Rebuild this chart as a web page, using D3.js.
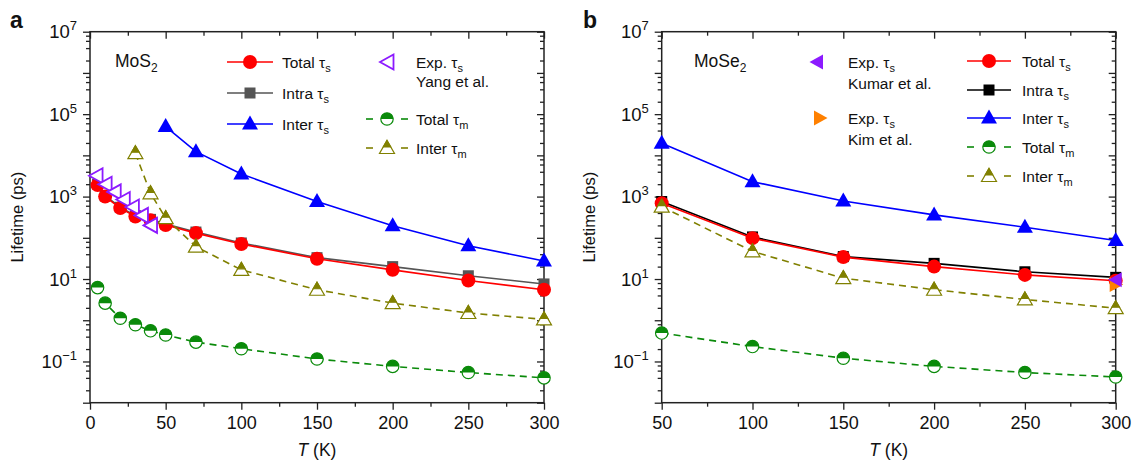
<!DOCTYPE html>
<html><head><meta charset="utf-8">
<script src="https://cdn.jsdelivr.net/npm/d3@7"></script>
<style>
html,body{margin:0;padding:0;background:#fff;}
svg text{font-family:"Liberation Sans",Arial,Helvetica,sans-serif;fill:#111;}
</style></head>
<body><svg id="c" width="1132" height="462"></svg>
<script>
// ---------- DATA ----------
// Panel a: MoS2
const tA = [5,10,20,30,40,50,70,100,150,200,250,300];
const totalTauS_A = [1900,1000,525,330,265,205,130,71,31,16.7,9.2,5.5];
const intraTauS_A = [2000,1050,550,345,280,215,138,75,33,20,12,7.6];
const tInterS_A = [50,70,100,150,200,250,300];
const interTauS_A = [50000,12300,3550,760,195,64,27.5];
const tInterM_A = [30,40,50,70,100,150,200,250,300];
const interTauM_A = [11300,1200,300,61,16.7,5.5,2.6,1.5,1.05];
const totalTauM_A = [6.2,2.6,1.12,0.78,0.555,0.44,0.295,0.204,0.115,0.076,0.054,0.04];
const tExpYang = [4,10,16,22,28,34,40];
const expYang = [3200,2000,1300,850,560,350,200];
// Panel b: MoSe2
const tB = [50,100,150,200,250,300];
const totalTauS_B = [690,98,34,20,12.6,9.1];
const intraTauS_B = [760,105,35,24,15,11];
const interTauS_B = [19700,2300,785,360,181,86];
const interTauM_B = [570,47,10.5,5.5,3.2,1.96];
const totalTauM_B = [0.49,0.23,0.12,0.076,0.054,0.042];
const tExpKumar = [300], expKumar = [9.6];
const tExpKim = [300], expKim = [7.4];
// Ticks
const xTicksA = [0,50,100,150,200,250,300];
const xMinorA = [25,75,125,175,225,275];
const xTicksB = [50,100,150,200,250,300];
const xMinorB = [75,125,175,225,275];
const yLabelExp = [-1,1,3,5,7];
const yMajorExp = [-2,-1,0,1,2,3,4,5,6,7];
const yMinorMult = [2,4,6,8];

// ---------- COLORS ----------
const C = {red:"#ff0000", gray:"#555555", black:"#000000", blue:"#0000ff",
  green:"#0a8a0a", olive:"#808000", purple:"#8c1aff", orange:"#ff8000"};

const svg = d3.select("#c");
const yDomain = [1e-2, 1e7];
const yRange = [402.7, 31.7];

function drawMarker(g, type, color, cx, cy){
  const m = g.append("g").attr("transform",`translate(${cx},${cy})`);
  if(type==="circle"){
    m.append("circle").attr("r",7).attr("fill",color);
  } else if(type==="square"){
    m.append("rect").attr("x",-5.5).attr("y",-5.5).attr("width",11).attr("height",11).attr("fill",color);
  } else if(type==="triUp"){
    m.append("path").attr("d","M0,-8.5 L8,5.5 L-8,5.5 Z").attr("fill",color);
  } else if(type==="halfCircle"){
    m.append("circle").attr("r",6.2).attr("fill","#fff").attr("stroke",color).attr("stroke-width",1.2);
    m.append("path").attr("d","M-6.2,0 A6.2,6.2 0 0 1 6.2,0 Z").attr("fill",color);
  } else if(type==="halfTri"){
    m.append("path").attr("d","M0,-7.5 L7.5,5.5 L-7.5,5.5 Z").attr("fill","#fff").attr("stroke",color).attr("stroke-width",1.2);
    m.append("path").attr("d","M0,-7.5 L3.75,-1 L-3.75,-1 Z").attr("fill",color).attr("stroke",color).attr("stroke-width",1.2);
  } else if(type==="triLeftOpen"){
    m.append("path").attr("d","M-7,0 L6.5,-7.5 L6.5,7.5 Z").attr("fill","#fff").attr("stroke",color).attr("stroke-width",1.8);
  } else if(type==="triLeft"){
    m.append("path").attr("d","M-7.5,0 L6,-7.5 L6,7.5 Z").attr("fill",color);
  } else if(type==="triRight"){
    m.append("path").attr("d","M7.5,0 L-6,-7.5 L-6,7.5 Z").attr("fill",color);
  }
}

function series(g, x, y, xs, ys, color, dash, marker, lineWidth){
  const pts = xs.map((t,i)=>[x(t), y(ys[i])]);
  if(dash!==null){
    g.append("path").attr("d", d3.line()(pts)).attr("fill","none").attr("stroke",color)
      .attr("stroke-width",lineWidth||1.6).attr("stroke-dasharray",dash||null);
  }
  pts.forEach(p=>drawMarker(g, marker, color, p[0], p[1]));
}

function addSub(textSel, main, sub, subSize, dy){
  textSel.append("tspan").text(main);
  textSel.append("tspan").attr("font-size",subSize).attr("dy",dy).text(sub);
}

function panel(opts){
  const {x, xTicks, xMinor, label, labelX, axX0, axX1} = opts;
  const y = d3.scaleLog().domain(yDomain).range(yRange);
  const g = svg.append("g");
  const clipId = "clip"+label;
  svg.append("clipPath").attr("id",clipId).append("rect")
    .attr("x",axX0-12).attr("y",yRange[1]).attr("width",axX1-axX0+24).attr("height",yRange[0]-yRange[1]);

  g.append("rect").attr("x",axX0).attr("y",yRange[1]).attr("width",axX1-axX0).attr("height",yRange[0]-yRange[1])
    .attr("fill","none").attr("stroke","#222").attr("stroke-width",1.5);

  const tickStyle = sel => { sel.select(".domain").remove(); sel.selectAll("line").attr("stroke","#222").attr("stroke-width",1.3); };
  g.append("g").attr("transform",`translate(0,${yRange[0]})`)
    .call(d3.axisBottom(x).tickValues(xTicks).tickSize(7).tickPadding(7).tickFormat(d3.format("d")))
    .call(tickStyle)
    .call(s=>s.selectAll("text").attr("font-size",18).attr("fill","#111"));
  g.append("g").attr("transform",`translate(0,${yRange[0]})`)
    .call(d3.axisBottom(x).tickValues(xMinor).tickSize(4).tickFormat(""))
    .call(tickStyle);
  g.append("g").attr("transform",`translate(0,${yRange[1]})`)
    .call(d3.axisTop(x).tickValues(xTicks).tickSize(-7).tickFormat(""))
    .call(tickStyle);
  g.append("g").attr("transform",`translate(0,${yRange[1]})`)
    .call(d3.axisTop(x).tickValues(xMinor).tickSize(-4).tickFormat(""))
    .call(tickStyle);

  const yMajor = yMajorExp.map(e=>Math.pow(10,e));
  const yMinor = [];
  for(let e=-2;e<7;e++) yMinorMult.forEach(m=>yMinor.push(m*Math.pow(10,e)));
  const yLab = yLabelExp.map(e=>Math.pow(10,e));
  g.append("g").attr("transform",`translate(${axX0},0)`)
    .call(d3.axisLeft(y).tickValues(yMajor).tickSize(7).tickFormat(""))
    .call(tickStyle);
  g.append("g").attr("transform",`translate(${axX0},0)`)
    .call(d3.axisLeft(y).tickValues(yMinor).tickSize(4).tickFormat(""))
    .call(tickStyle);
  g.append("g").attr("transform",`translate(${axX1},0)`)
    .call(d3.axisRight(y).tickValues(yMajor).tickSize(-7).tickFormat(""))
    .call(tickStyle);
  g.append("g").attr("transform",`translate(${axX1},0)`)
    .call(d3.axisRight(y).tickValues(yMinor).tickSize(-4).tickFormat(""))
    .call(tickStyle);
  yLab.forEach((v,i)=>{
    const e = yLabelExp[i];
    const t = g.append("text").attr("x",axX0-13).attr("y",y(v)+6.5).attr("text-anchor","end").attr("font-size",18.5);
    t.append("tspan").text("10");
    t.append("tspan").attr("font-size",13).attr("dy",-8).text(e<0?"\u2212"+(-e):String(e));
  });

  g.append("text").attr("transform",`translate(${axX0-67},${(yRange[0]+yRange[1])/2}) rotate(-90)`)
    .attr("text-anchor","middle").attr("font-size",16.5).text("Lifetime (ps)");
  const xt = g.append("text").attr("x",(axX0+axX1)/2).attr("y",456).attr("text-anchor","middle").attr("font-size",17.5);
  xt.append("tspan").attr("font-style","italic").text("T");
  xt.append("tspan").text(" (K)");

  svg.append("text").attr("x",labelX).attr("y",28).attr("font-size",23).attr("font-weight","bold").text(label);

  const plot = g.append("g").attr("clip-path",`url(#${clipId})`);
  return {g, plot, y};
}

// ---------- Panel a ----------
const xA = d3.scaleLinear().domain([0,300]).range([90,544]);
const pA = panel({x:xA, xTicks:xTicksA, xMinor:xMinorA, label:"a", labelX:10, axX0:90, axX1:544});
series(pA.plot, xA, pA.y, tA, intraTauS_A, C.gray, "", "square");
series(pA.plot, xA, pA.y, tA, totalTauS_A, C.red, "", "circle");
series(pA.plot, xA, pA.y, tInterS_A, interTauS_A, C.blue, "", "triUp");
series(pA.plot, xA, pA.y, tA, totalTauM_A, C.green, "7,5", "halfCircle");
series(pA.plot, xA, pA.y, tInterM_A, interTauM_A, C.olive, "7,5", "halfTri");
series(pA.plot, xA, pA.y, tExpYang, expYang, C.purple, null, "triLeftOpen");

// legend a
{
  const g = pA.g;
  const t0 = g.append("text").attr("x",115).attr("y",67).attr("font-size",17.5);
  addSub(t0,"MoS","2",12,5);
  const rows = [
    {y:62, c:C.red, m:"circle", main:"Total \u03c4", sub:"s"},
    {y:93, c:C.gray, m:"square", main:"Intra \u03c4", sub:"s"},
    {y:124, c:C.blue, m:"triUp", main:"Inter \u03c4", sub:"s"}];
  rows.forEach(r=>{
    g.append("line").attr("x1",227).attr("x2",273).attr("y1",r.y).attr("y2",r.y).attr("stroke",r.c).attr("stroke-width",1.6);
    drawMarker(g,r.m,r.c,250,r.y);
    const t = g.append("text").attr("x",282).attr("y",r.y+5.5).attr("font-size",15.5);
    addSub(t,r.main,r.sub,11,4);
  });
  drawMarker(g,"triLeftOpen",C.purple,387,62);
  const te = g.append("text").attr("x",416).attr("y",67.5).attr("font-size",15.5);
  addSub(te,"Exp. \u03c4","s",11,4);
  g.append("text").attr("x",416).attr("y",87).attr("font-size",15.5).text("Yang et al.");
  const rows2 = [
    {y:119, c:C.green, m:"halfCircle", main:"Total \u03c4", sub:"m"},
    {y:148, c:C.olive, m:"halfTri", main:"Inter \u03c4", sub:"m"}];
  rows2.forEach(r=>{
    g.append("line").attr("x1",366).attr("x2",373).attr("y1",r.y).attr("y2",r.y).attr("stroke",r.c).attr("stroke-width",1.6);
    g.append("line").attr("x1",401).attr("x2",408).attr("y1",r.y).attr("y2",r.y).attr("stroke",r.c).attr("stroke-width",1.6);
    drawMarker(g,r.m,r.c,387,r.y);
    const t = g.append("text").attr("x",416).attr("y",r.y+5.5).attr("font-size",15.5);
    addSub(t,r.main,r.sub,11,4);
  });
}

// ---------- Panel b ----------
const xB = d3.scaleLinear().domain([50,300]).range([661.7,1115.7]);
const pB = panel({x:xB, xTicks:xTicksB, xMinor:xMinorB, label:"b", labelX:583, axX0:661.7, axX1:1115.7});
series(pB.plot, xB, pB.y, tB, intraTauS_B, C.black, "", "square");
series(pB.plot, xB, pB.y, tB, totalTauS_B, C.red, "", "circle");
series(pB.plot, xB, pB.y, tB, interTauS_B, C.blue, "", "triUp");
series(pB.plot, xB, pB.y, tB, totalTauM_B, C.green, "7,5", "halfCircle");
series(pB.plot, xB, pB.y, tB, interTauM_B, C.olive, "7,5", "halfTri");
series(pB.g, xB, pB.y, tExpKim, expKim, C.orange, null, "triRight");
series(pB.g, xB, pB.y, tExpKumar, expKumar, C.purple, null, "triLeft");

// legend b
{
  const g = pB.g;
  const t0 = g.append("text").attr("x",694).attr("y",67).attr("font-size",17.5);
  addSub(t0,"MoSe","2",12,5);
  drawMarker(g,"triLeft",C.purple,817,62);
  let t = g.append("text").attr("x",848).attr("y",67.5).attr("font-size",15.5);
  addSub(t,"Exp. \u03c4","s",11,4);
  g.append("text").attr("x",848).attr("y",89).attr("font-size",15.5).text("Kumar et al.");
  drawMarker(g,"triRight",C.orange,820,118);
  t = g.append("text").attr("x",848).attr("y",123.5).attr("font-size",15.5);
  addSub(t,"Exp. \u03c4","s",11,4);
  g.append("text").attr("x",848).attr("y",145).attr("font-size",15.5).text("Kim et al.");
  const rows = [
    {y:61, c:C.red, m:"circle", main:"Total \u03c4", sub:"s", dash:false},
    {y:90, c:C.black, m:"square", main:"Intra \u03c4", sub:"s", dash:false},
    {y:118, c:C.blue, m:"triUp", main:"Inter \u03c4", sub:"s", dash:false},
    {y:147, c:C.green, m:"halfCircle", main:"Total \u03c4", sub:"m", dash:true},
    {y:176, c:C.olive, m:"halfTri", main:"Inter \u03c4", sub:"m", dash:true}];
  rows.forEach(r=>{
    if(r.dash){
      g.append("line").attr("x1",967).attr("x2",974).attr("y1",r.y).attr("y2",r.y).attr("stroke",r.c).attr("stroke-width",1.6);
      g.append("line").attr("x1",1004).attr("x2",1011).attr("y1",r.y).attr("y2",r.y).attr("stroke",r.c).attr("stroke-width",1.6);
    } else {
      g.append("line").attr("x1",967).attr("x2",1011).attr("y1",r.y).attr("y2",r.y).attr("stroke",r.c).attr("stroke-width",1.6);
    }
    drawMarker(g,r.m,r.c,989,r.y);
    const tt = g.append("text").attr("x",1022).attr("y",r.y+5.5).attr("font-size",15.5);
    addSub(tt,r.main,r.sub,11,4);
  });
}
</script></body></html>
